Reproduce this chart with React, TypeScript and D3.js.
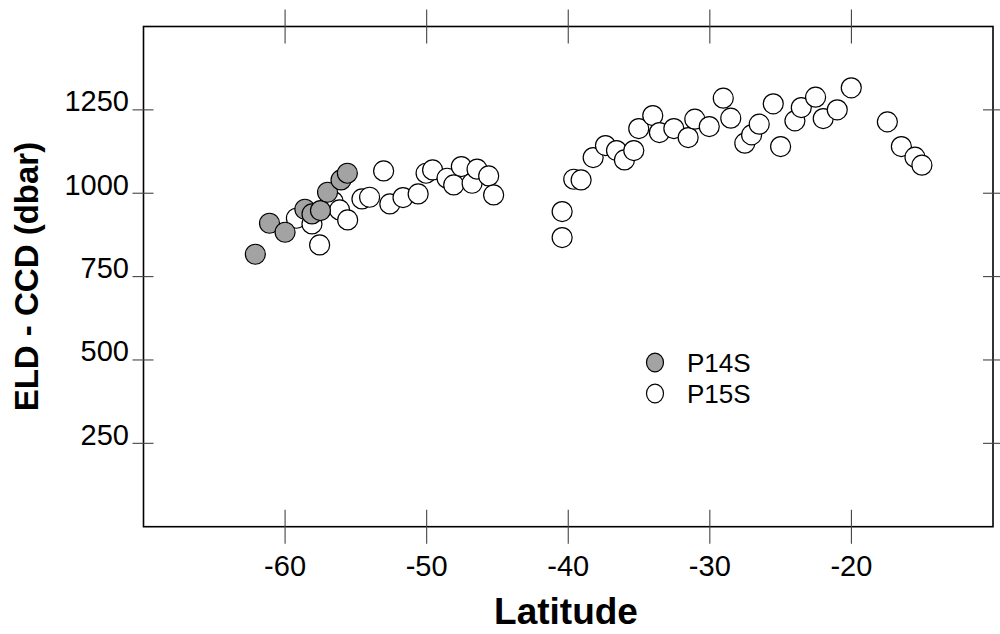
import React from "react";
import * as d3 from "d3";

const p14sLat = [-62.1, -61.1, -60.0, -58.6, -58.1, -57.5, -57.0, -56.05, -55.6];
const p14sVal = [817, 910, 883, 952, 938, 948, 1003, 1040, 1060];

const p15sLat = [
  -59.2, -58.1, -57.56, -56.6, -56.15, -55.58, -54.57, -54.03, -53.04, -52.6, -51.67, -50.6, -50.04,
  -49.58, -48.56, -48.09, -47.55, -46.79, -46.44, -45.62, -45.27,
  -40.43, -40.43, -39.61, -39.09, -38.24, -37.37, -36.59, -36.03, -35.37, -35.02, -34.03, -33.56,
  -32.54, -31.53, -31.06, -30.04, -29.05, -28.52, -27.53, -27.05, -26.51, -25.52, -25.0, -23.99,
  -23.54, -22.53, -21.99, -21.0, -20.01, -17.46, -16.47, -15.51, -15.02,
];
const p15sVal = [
  925, 908, 845, 975, 950, 920, 983, 988, 1067, 968, 987, 998, 1060,
  1070, 1045, 1025, 1080, 1030, 1072, 1052, 995,
  867, 945, 1042, 1040, 1107, 1143, 1128, 1100, 1128, 1194, 1233, 1182,
  1194, 1167, 1222, 1200, 1285, 1225, 1150, 1175, 1207, 1268, 1140, 1217,
  1257, 1288, 1224, 1250, 1316, 1214, 1140, 1108, 1084,
];

const xTicks = [-60, -50, -40, -30, -20];
const yTicks = [250, 500, 750, 1000, 1250];
const seriesNames = ["P14S", "P15S"];

const X0 = 143.5, X1 = 993, Y0 = 26.5, Y1 = 526.7;
const GRAY = "#a3a3a3";
const FONT = "'Liberation Sans', Arial, sans-serif";

export default function App() {
  const x = d3.scaleLinear().domain([-70, -10]).range([X0, X1]);
  const y = d3.scaleLinear().domain([0, 1500]).range([Y1, Y0]);
  const p15 = p15sLat.map((d, i) => ({ lat: d, v: p15sVal[i] }));
  const p14 = p14sLat.map((d, i) => ({ lat: d, v: p14sVal[i] }));
  const tickColor = "#444";
  return (
    <svg width={1000} height={634} style={{ position: "absolute", left: 0, top: 0, background: "#fff" }} fontFamily={FONT}>
      <rect x={X0} y={Y0} width={X1 - X0} height={Y1 - Y0} fill="none" stroke="#000" strokeWidth={1.6} />
      {xTicks.map((t) => (
        <g key={"xt" + t}>
          <line x1={x(t)} x2={x(t)} y1={Y1 - 17} y2={Y1 + 17} stroke={tickColor} strokeWidth={1.1} />
          <line x1={x(t)} x2={x(t)} y1={Y0 - 17} y2={Y0 + 17} stroke={tickColor} strokeWidth={1.1} />
          <text x={x(t)} y={576} fontSize={29} textAnchor="middle" fill="#000">{t}</text>
        </g>
      ))}
      {yTicks.map((t) => (
        <g key={"yt" + t}>
          <line x1={X0 - 11} x2={X0 + 10} y1={y(t)} y2={y(t)} stroke={tickColor} strokeWidth={1.1} />
          <line x1={X1 - 10} x2={X1 + 11} y1={y(t)} y2={y(t)} stroke={tickColor} strokeWidth={1.1} />
          <text x={129} y={y(t) + 1.5} fontSize={29} textAnchor="end" fill="#000">{t}</text>
        </g>
      ))}
      {p15.map((d, i) => (
        <circle key={"w" + i} cx={x(d.lat)} cy={y(d.v)} r={10} fill="#fff" stroke="#000" strokeWidth={1.2} />
      ))}
      {p14.map((d, i) => (
        <circle key={"g" + i} cx={x(d.lat)} cy={y(d.v)} r={10} fill={GRAY} stroke="#000" strokeWidth={1.2} />
      ))}
      {seriesNames.map((n, i) => (
        <g key={n}>
          <ellipse cx={655} cy={362.5 + i * 31} rx={8.5} ry={9.3} fill={i === 0 ? GRAY : "#fff"} stroke="#000" strokeWidth={1.2} />
          <text x={687} y={362.5 + i * 31 + 9} fontSize={26} fill="#000">{n}</text>
        </g>
      ))}
      <text x={566} y={624} fontSize={37} fontWeight="bold" textAnchor="middle" fill="#000">Latitude</text>
      <text transform={`translate(38,${(Y0 + Y1) / 2}) rotate(-90)`} fontSize={33} fontWeight="bold" textAnchor="middle" fill="#000">ELD - CCD (dbar)</text>
    </svg>
  );
}
